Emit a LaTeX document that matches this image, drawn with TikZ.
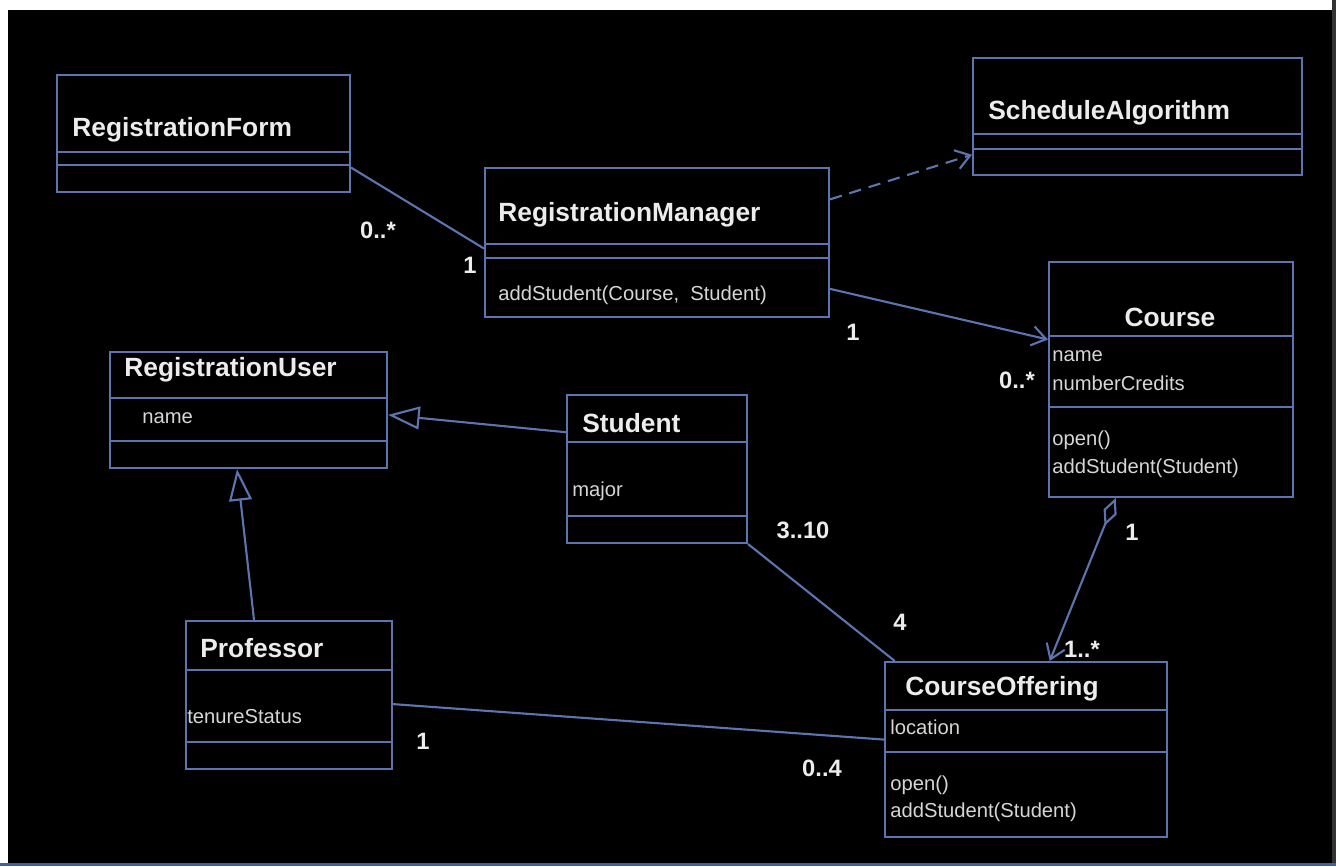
\documentclass[tikz,border=0pt]{standalone}
\usepackage{fontspec}
\setmainfont{Liberation Sans}
\usepackage{tikz}
\usetikzlibrary{arrows.meta, calc}
\definecolor{umlblue}{RGB}{92,116,176}
\definecolor{umlwhite}{RGB}{236,236,236}
\definecolor{umlgrey}{RGB}{214,214,214}
\definecolor{edgeblue}{RGB}{62,100,150}
\tikzstyle{classbox} = [rectangle, draw=umlblue, line width=1.2pt, inner sep=0pt]
\tikzstyle{divider} = [draw=umlblue, line width=1.2pt]
\tikzstyle{umltitle} = [text=umlwhite, font=\bfseries\fontsize{15}{17}\selectfont, inner sep=0pt, anchor=west]
\tikzstyle{umlmember} = [text=umlgrey, font=\fontsize{11.5}{13}\selectfont, inner sep=0pt, anchor=west]
\tikzstyle{mult} = [text=umlwhite, font=\bfseries\fontsize{13.5}{16}\selectfont, inner sep=0pt]
\tikzstyle{assoc} = [draw=umlblue, line width=1.2pt]
\tikzstyle{navig} = [assoc, -{Straight Barb[length=8pt, width=11pt]}]
\tikzstyle{depend} = [navig, dash pattern=on 7pt off 4.5pt]
\tikzstyle{inherit} = [assoc, -{Triangle[open, length=18pt, width=13pt]}]
\tikzstyle{aggreg} = [assoc, {Diamond[open, length=17pt, width=8pt]}-{Straight Barb[length=8pt, width=11pt]}]

\begin{document}
\begin{tikzpicture}[x=0.02cm, y=-0.02cm]
\useasboundingbox (0,0) rectangle (1336,866);
% frame of the screenshot
\fill[white] (0,0) rectangle (1336,866);
\fill[black] (8,10) rectangle (1332,863);
\fill[black!80] (1332,0) rectangle (1336,866);
\fill[edgeblue] (0,863) rectangle (1336,866);

% classes
\node (rf) [classbox, minimum width=5.86cm, minimum height=2.34cm] at (203.5,133.5) {};
\node (sa) [classbox, minimum width=6.58cm, minimum height=2.34cm] at (1137.5,116.5) {};
\node (rm) [classbox, minimum width=6.88cm, minimum height=2.98cm] at (657,242.5) {};
\node (co) [classbox, minimum width=4.88cm, minimum height=4.70cm] at (1171,379.5) {};
\node (ru) [classbox, minimum width=5.54cm, minimum height=2.32cm] at (248.5,410) {};
\node (st) [classbox, minimum width=3.60cm, minimum height=2.96cm] at (657,469) {};
\node (pr) [classbox, minimum width=4.12cm, minimum height=2.96cm] at (289,695) {};
\node (cof) [classbox, minimum width=5.64cm, minimum height=3.50cm] at (1026,749.5) {};

% compartments
\draw [divider] ($(rf.north west)+(0,78)$) -- ($(rf.north east)+(0,78)$);
\draw [divider] ($(rf.north west)+(0,91)$) -- ($(rf.north east)+(0,91)$);
\draw [divider] ($(sa.north west)+(0,77)$) -- ($(sa.north east)+(0,77)$);
\draw [divider] ($(sa.north west)+(0,92)$) -- ($(sa.north east)+(0,92)$);
\draw [divider] ($(rm.north west)+(0,77)$) -- ($(rm.north east)+(0,77)$);
\draw [divider] ($(rm.north west)+(0,91)$) -- ($(rm.north east)+(0,91)$);
\draw [divider] ($(co.north west)+(0,75)$) -- ($(co.north east)+(0,75)$);
\draw [divider] ($(co.north west)+(0,146)$) -- ($(co.north east)+(0,146)$);
\draw [divider] ($(ru.north west)+(0,47)$) -- ($(ru.north east)+(0,47)$);
\draw [divider] ($(ru.north west)+(0,90)$) -- ($(ru.north east)+(0,90)$);
\draw [divider] ($(st.north west)+(0,48)$) -- ($(st.north east)+(0,48)$);
\draw [divider] ($(st.north west)+(0,122)$) -- ($(st.north east)+(0,122)$);
\draw [divider] ($(pr.north west)+(0,50)$) -- ($(pr.north east)+(0,50)$);
\draw [divider] ($(pr.north west)+(0,122)$) -- ($(pr.north east)+(0,122)$);
\draw [divider] ($(cof.north west)+(0,49)$) -- ($(cof.north east)+(0,49)$);
\draw [divider] ($(cof.north west)+(0,91)$) -- ($(cof.north east)+(0,91)$);

% names, attributes, operations
\node (rf-name) [umltitle] at (72,130) {RegistrationForm};
\node (sa-name) [umltitle] at (988,113) {ScheduleAlgorithm};
\node (rm-name) [umltitle] at (498,215) {RegistrationManager};
\node (rm-op) [umlmember] at (498,295) {addStudent(Course,\ \ Student)};
\node (co-name) [umltitle, anchor=center] at (1170,317) {Course};
\node (co-attr1) [umlmember] at (1052,356) {name};
\node (co-attr2) [umlmember] at (1052,383) {numberCredits};
\node (co-op1) [umlmember] at (1052,440) {open()};
\node (co-op2) [umlmember] at (1052,468) {addStudent(Student)};
\node (ru-name) [umltitle] at (124,370) {RegistrationUser};
\node (ru-attr) [umlmember] at (142,418) {name};
\node (st-name) [umltitle] at (582,423) {Student};
\node (st-attr) [umlmember] at (572,491) {major};
\node (pr-name) [umltitle] at (200,648) {Professor};
\node (pr-attr) [umlmember] at (187,717) {tenureStatus};
\node (cof-name) [umltitle] at (905,689) {CourseOffering};
\node (cof-attr) [umlmember] at (890,727) {location};
\node (cof-op1) [umlmember] at (890,785) {open()};
\node (cof-op2) [umlmember] at (890,812) {addStudent(Student)};

% relations
\draw [assoc] (rf.-13) -- (rm.182);
\draw [depend] (rm.14.5) -- (sa.193);
\draw [navig] (rm.-15) -- (co.162.5);
\draw [inherit] (st.158) -- (ru.-2);
\draw [inherit] (pr.115) -- (ru.-101);
\draw [assoc] (st.south east) -- (cof.146);
\draw [assoc] (pr.-5.5) -- (cof.176);
\draw [aggreg] (co.-115) -- (cof.75);

% multiplicities
\node (m-rf) [mult] at (378,230) {0..*};
\node (m-rm1) [mult] at (470,265) {1};
\node (m-rm2) [mult] at (853,332) {1};
\node (m-co1) [mult] at (1017,380) {0..*};
\node (m-st) [mult] at (803,530) {3..10};
\node (m-cof1) [mult] at (900,622) {4};
\node (m-pr) [mult] at (423,741) {1};
\node (m-cof2) [mult] at (822,768) {0..4};
\node (m-co2) [mult] at (1132,532) {1};
\node (m-cof3) [mult] at (1082,649) {1..*};
\end{tikzpicture}
\end{document}
